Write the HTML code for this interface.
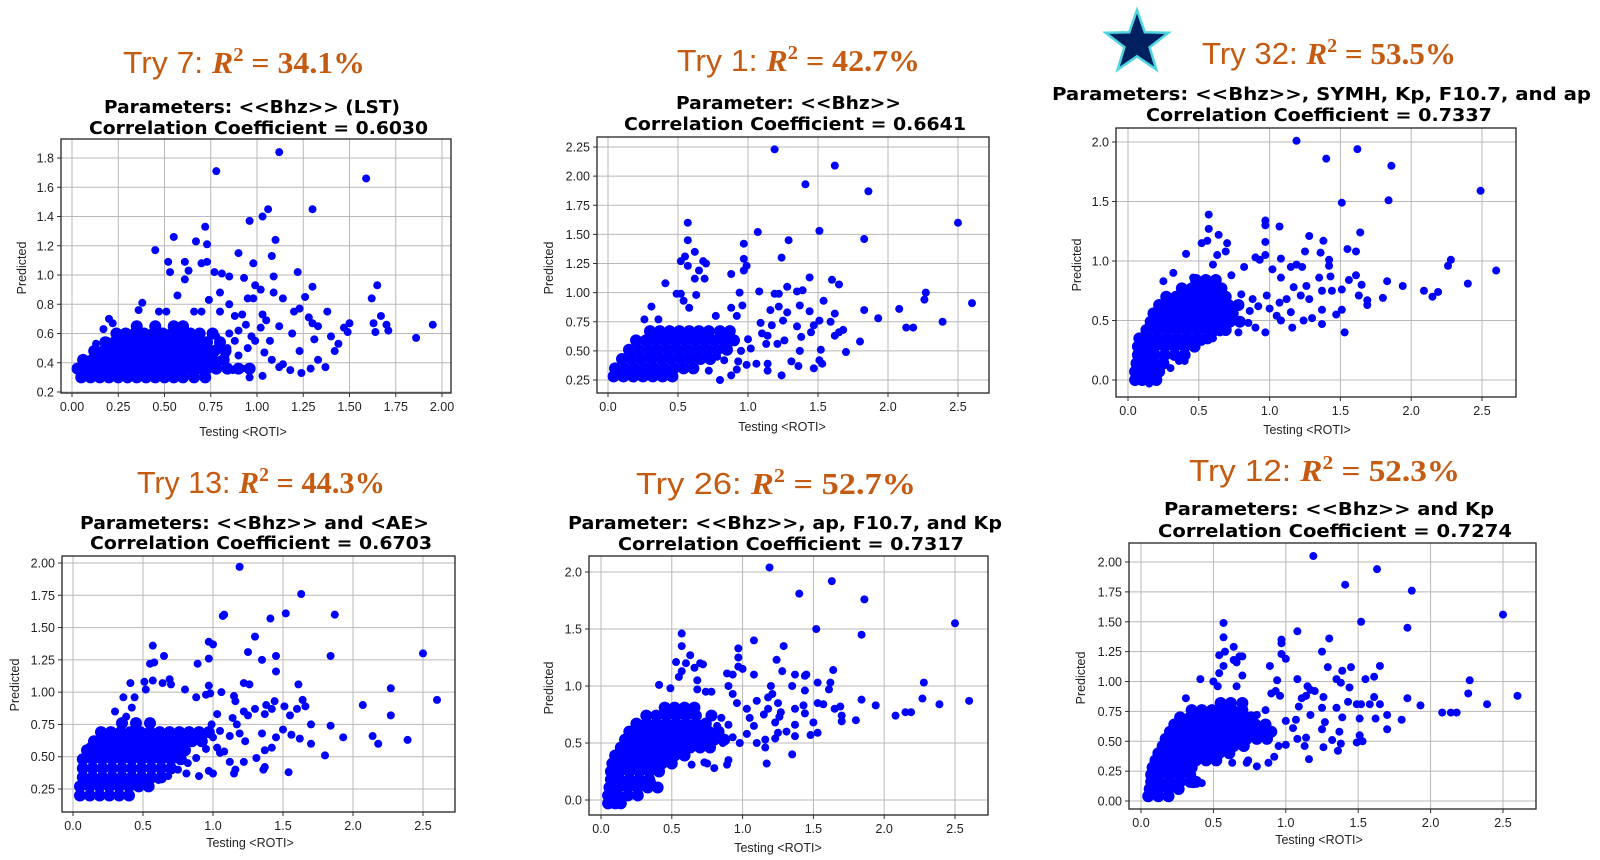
<!DOCTYPE html>
<html><head><meta charset="utf-8"><style>
html,body{margin:0;padding:0;background:#fff;}
svg{display:block;}
.tk{font-family:"Liberation Sans","DejaVu Sans",sans-serif;font-size:12.5px;fill:#222;}
.ax{font-family:"Liberation Sans","DejaVu Sans",sans-serif;font-size:12.5px;fill:#222;}
.sub{font-family:"DejaVu Sans","Liberation Sans",sans-serif;font-weight:bold;font-size:18px;fill:#000;}
.ttl{font-family:"Liberation Sans",sans-serif;font-size:31px;fill:#C55A11;}
.mth{font-family:"Liberation Serif",serif;font-weight:bold;}
</style></head><body>
<svg id="root" width="1600" height="860" viewBox="0 0 1600 860" xmlns="http://www.w3.org/2000/svg">
<polygon fill="#002060" stroke="#4fd6e0" stroke-width="2.5"
 points="1137,10 1144.8,32.3 1168.4,32.8 1149.6,47.2 1156.4,69.7 1137,56.3 1117.6,69.7 1124.4,47.2 1105.6,32.8 1129.2,32.3"/>
</svg>
<script>
// ---------------- DATA ----------------
const titles = ["Try 7: ","Try 1: ","Try 32: ","Try 13: ","Try 26:  ","Try 12: "];
const r2values = ["= 34.1%","= 42.7%","= 53.5%","= 44.3%","= 52.7%","= 52.3%"];
const subLine1 = ["Parameters: <<Bhz>> (LST)","Parameter: <<Bhz>>","Parameters: <<Bhz>>, SYMH, Kp, F10.7, and ap","Parameters: <<Bhz>> and <AE>","Parameter: <<Bhz>>, ap, F10.7, and Kp","Parameters: <<Bhz>> and Kp"];
const corrValues = ["0.6030","0.6641","0.7337","0.6703","0.7317","0.7274"];

const xTicks1 = [0,0.25,0.5,0.75,1.0,1.25,1.5,1.75,2.0];
const xTickLabels1 = ["0.00","0.25","0.50","0.75","1.00","1.25","1.50","1.75","2.00"];
const yTicks1 = [0.2,0.4,0.6,0.8,1.0,1.2,1.4,1.6,1.8];
const yTickLabels1 = ["0.2","0.4","0.6","0.8","1.0","1.2","1.4","1.6","1.8"];
const xTicksB = [0,0.5,1.0,1.5,2.0,2.5];
const xTickLabelsB = ["0.0","0.5","1.0","1.5","2.0","2.5"];
const yTicks2 = [0.25,0.5,0.75,1.0,1.25,1.5,1.75,2.0,2.25];
const yTickLabels2 = ["0.25","0.50","0.75","1.00","1.25","1.50","1.75","2.00","2.25"];
const yTicks3 = [0,0.5,1.0,1.5,2.0];
const yTickLabels3 = ["0.0","0.5","1.0","1.5","2.0"];
const yTicks4 = [0.25,0.5,0.75,1.0,1.25,1.5,1.75,2.0];
const yTickLabels4 = ["0.25","0.50","0.75","1.00","1.25","1.50","1.75","2.00"];
const yTicks6 = [0,0.25,0.5,0.75,1.0,1.25,1.5,1.75,2.0];
const yTickLabels6 = ["0.00","0.25","0.50","0.75","1.00","1.25","1.50","1.75","2.00"];

// dense core rows: [y, [x values]]
const core1 = [[0.30,[.05,.10,.15,.20,.25,.30,.35,.40,.45,.50,.55,.60,.66,.72]],
[0.36,[.03,.08,.13,.18,.23,.28,.33,.38,.43,.48,.53,.58,.63,.68,.73,.78,.84,.90,.96]],
[0.42,[.06,.11,.16,.21,.26,.31,.36,.41,.46,.51,.56,.61,.66,.71,.76,.82]],
[0.48,[.12,.17,.22,.27,.32,.37,.42,.47,.52,.57,.62,.67,.72,.77,.83]],
[0.54,[.18,.23,.28,.33,.38,.43,.48,.53,.58,.63,.68,.73,.80]],
[0.60,[.24,.29,.34,.39,.44,.49,.54,.59,.64,.69,.76]],
[0.65,[.35,.45,.55,.60]]];
const pts1 = [[1.12,1.84],[0.78,1.71],[1.59,1.66],[1.30,1.45],[1.06,1.45],[1.03,1.40],[0.96,1.37],[0.72,1.33],[0.55,1.26],[1.10,1.24],[0.67,1.23],[0.73,1.21],[0.45,1.17],[0.90,1.15],[1.08,1.13],[0.52,1.09],[0.61,1.09],[0.70,1.08],[0.73,1.09],[0.98,1.08],[0.53,1.02],[0.63,1.03],[0.77,1.02],[0.81,1.01],[1.22,1.02],[0.85,0.99],[0.93,0.98],[1.09,0.99],[0.61,0.97],[0.99,0.93],[1.02,0.90],[1.30,0.92],[0.80,0.88],[1.65,0.93],[1.09,0.88],[0.57,0.86],[1.26,0.85],[0.95,0.84],[0.98,0.84],[1.14,0.84],[1.62,0.84],[0.38,0.81],[0.74,0.83],[0.36,0.76],[1.38,0.75],[1.20,0.75],[1.23,0.77],[0.47,0.75],[0.51,0.75],[1.67,0.72],[1.28,0.71],[1.30,0.67],[1.33,0.65],[1.50,0.67],[1.63,0.67],[1.70,0.66],[1.95,0.66],[1.47,0.64],[1.40,0.58],[1.71,0.62],[1.64,0.61],[1.49,0.61],[1.86,0.57],[1.31,0.56],[1.44,0.53],[1.42,0.48],[1.23,0.48],[1.33,0.42],[1.37,0.37],[1.29,0.36],[1.24,0.33],[1.18,0.35],[1.03,0.31],[0.96,0.30],[1.12,0.37],[1.08,0.42],[1.14,0.39],[1.04,0.47],[1.19,0.60],[1.07,0.55],[1.12,0.65],[1.02,0.64],[0.94,0.66],[0.88,0.72],[0.92,0.73],[1.03,0.73],[1.05,0.69],[0.99,0.55],[0.90,0.45],[0.84,0.50],[0.80,0.42],[0.87,0.35],[0.92,0.36],[0.75,0.40],[0.70,0.75],[0.66,0.75],[0.80,0.75],[0.85,0.80],[0.90,0.62],[0.95,0.50],[0.85,0.60],[0.78,0.58],[0.78,0.50],[0.83,0.45],[0.88,0.55],[0.97,0.58],[0.20,0.70],[0.17,0.63],[0.22,0.67],[0.19,0.55],[0.13,0.53],[0.08,0.40],[0.45,0.66],[0.58,0.34]];

const core2 = [[0.28,[.04,.11,.18,.25,.32,.39,.46]],
[0.35,[.05,.12,.19,.26,.33,.40,.47,.54,.61]],
[0.43,[.10,.17,.24,.31,.38,.45,.52,.59,.66,.73]],
[0.51,[.15,.22,.29,.36,.43,.50,.57,.64,.71,.78,.85]],
[0.59,[.20,.27,.34,.41,.48,.55,.62,.69,.76,.83,.90]],
[0.67,[.30,.37,.44,.51,.58,.65,.72,.80,.87]]];
const pts2 = [[1.19,2.23],[1.62,2.09],[1.41,1.93],[1.86,1.87],[0.57,1.60],[2.50,1.60],[1.07,1.52],[1.51,1.53],[0.57,1.45],[1.83,1.46],[1.29,1.45],[0.97,1.42],[0.62,1.35],[0.55,1.31],[0.52,1.27],[0.57,1.23],[0.68,1.27],[0.70,1.25],[0.97,1.29],[1.24,1.30],[0.97,1.19],[0.99,1.23],[0.65,1.19],[0.62,1.12],[0.69,1.12],[0.88,1.16],[1.44,1.13],[1.60,1.11],[1.65,1.07],[0.41,1.08],[0.49,0.99],[0.52,0.99],[0.63,0.98],[0.94,1.00],[1.08,1.01],[1.19,0.99],[1.22,0.99],[1.28,1.05],[1.35,1.01],[1.39,1.02],[2.27,1.00],[2.26,0.94],[2.60,0.91],[1.54,0.93],[0.54,0.93],[0.58,0.87],[0.31,0.88],[0.88,0.87],[0.96,0.89],[1.16,0.85],[1.22,0.88],[1.37,0.89],[1.44,0.84],[1.83,0.85],[2.08,0.86],[1.28,0.83],[1.62,0.82],[0.77,0.80],[0.26,0.77],[0.36,0.77],[0.92,0.80],[1.25,0.76],[1.51,0.76],[1.59,0.75],[1.47,0.72],[1.35,0.71],[1.17,0.72],[1.93,0.78],[2.39,0.75],[2.13,0.70],[2.18,0.70],[1.68,0.68],[1.65,0.66],[1.62,0.63],[1.45,0.66],[1.38,0.62],[1.14,0.63],[1.80,0.58],[1.26,0.59],[1.21,0.56],[1.13,0.56],[1.00,0.60],[1.02,0.52],[0.95,0.50],[1.37,0.50],[1.52,0.51],[1.70,0.49],[0.93,0.41],[0.99,0.38],[1.06,0.39],[1.14,0.39],[1.31,0.41],[1.36,0.37],[1.51,0.42],[1.53,0.39],[1.47,0.35],[1.14,0.33],[1.24,0.29],[0.88,0.29],[0.80,0.25],[0.72,0.33],[0.83,0.42],[0.92,0.34],[0.78,0.45],[0.85,0.50],[1.09,0.74],[1.10,0.65]];

const core3 = [[0.00,[.05,.10,.15,.20]],[0.07,[.05,.10,.15,.22]],[0.14,[.06,.12,.18,.25]],
[0.21,[.07,.13,.19,.26,.33,.40]],[0.28,[.07,.13,.19,.26,.33,.40,.47]],
[0.35,[.08,.14,.21,.28,.35,.42,.49,.56]],[0.42,[.13,.20,.27,.34,.41,.48,.55,.62,.69]],
[0.49,[.16,.23,.30,.37,.44,.51,.58,.65,.72,.79]],[0.56,[.18,.25,.32,.39,.46,.53,.60,.67,.74]],
[0.63,[.22,.29,.36,.43,.50,.57,.64,.71,.78]],[0.70,[.27,.34,.41,.48,.55,.62,.69]],
[0.77,[.38,.45,.52,.59,.66]],[0.84,[.48,.55,.62]]];
const pts3 = [[1.19,2.01],[1.40,1.86],[1.62,1.94],[1.86,1.80],[2.49,1.59],[1.51,1.49],[1.84,1.51],[0.57,1.39],[0.57,1.27],[0.64,1.22],[0.97,1.34],[0.97,1.30],[1.07,1.29],[1.28,1.21],[1.38,1.17],[1.64,1.24],[0.70,1.15],[0.56,1.17],[0.52,1.15],[0.97,1.16],[0.63,1.05],[0.41,1.06],[0.69,1.08],[0.97,1.05],[1.08,1.02],[1.25,1.08],[1.36,1.07],[1.42,1.01],[1.55,1.10],[1.61,1.08],[2.28,1.01],[2.26,0.96],[2.60,0.92],[0.90,1.03],[0.93,1.01],[1.19,0.97],[1.23,0.95],[1.42,0.96],[1.15,0.95],[0.32,0.90],[0.25,0.83],[0.46,0.86],[0.60,0.97],[0.82,0.95],[0.73,0.88],[1.02,0.93],[1.08,0.86],[1.35,0.86],[1.43,0.87],[1.56,0.84],[1.61,0.88],[1.65,0.80],[1.83,0.83],[1.94,0.79],[2.09,0.75],[2.15,0.70],[2.19,0.74],[2.40,0.81],[1.80,0.69],[1.69,0.67],[1.69,0.63],[1.63,0.71],[1.51,0.76],[1.44,0.75],[1.37,0.75],[1.26,0.79],[1.22,0.71],[1.17,0.78],[1.12,0.68],[1.07,0.65],[0.98,0.71],[0.88,0.68],[0.80,0.72],[0.86,0.58],[0.92,0.62],[1.00,0.60],[1.05,0.54],[1.08,0.50],[0.85,0.48],[0.90,0.44],[0.97,0.40],[0.78,0.40],[0.65,0.40],[0.55,0.34],[0.52,0.32],[0.60,0.35],[1.15,0.57],[1.16,0.44],[1.24,0.50],[1.28,0.68],[1.37,0.59],[1.37,0.47],[1.30,0.52],[1.47,0.55],[1.51,0.59],[1.53,0.40],[0.36,0.16],[0.40,0.16],[0.30,0.10],[0.20,0.00],[0.15,-0.03]];

const core4 = [[0.20,[.05,.12,.19,.26,.33,.40]],[0.27,[.05,.12,.19,.26,.33,.40,.47,.54]],
[0.34,[.07,.14,.21,.28,.35,.42,.49,.56,.63]],[0.41,[.07,.14,.21,.28,.35,.42,.49,.56,.63,.70]],
[0.48,[.07,.14,.21,.28,.35,.42,.49,.56,.63,.70,.77]],[0.55,[.10,.17,.24,.31,.38,.45,.52,.59,.66,.73,.80]],
[0.62,[.15,.22,.29,.36,.43,.50,.57,.64,.71,.78,.85,.92]],[0.69,[.20,.27,.34,.41,.48,.55,.62,.69,.76,.83,.90,.97]],
[0.76,[.35,.45,.55]]];
const pts4 = [[1.19,1.97],[1.63,1.76],[1.07,1.59],[1.08,1.60],[1.41,1.57],[1.52,1.61],[1.87,1.60],[1.30,1.43],[0.57,1.36],[0.97,1.39],[1.00,1.37],[1.25,1.31],[1.45,1.28],[1.84,1.28],[2.50,1.30],[0.65,1.28],[0.55,1.22],[0.58,1.23],[0.97,1.26],[0.89,1.22],[1.35,1.25],[1.45,1.16],[0.57,1.09],[0.51,1.08],[0.41,1.07],[0.64,1.07],[0.69,1.10],[0.70,1.06],[0.97,1.05],[1.22,1.07],[1.26,1.06],[1.61,1.06],[0.52,1.02],[0.80,1.02],[1.06,1.00],[2.27,1.03],[2.60,0.94],[0.36,0.96],[0.44,0.96],[0.88,0.96],[0.95,0.98],[0.98,0.99],[1.15,0.97],[1.16,0.93],[1.44,0.93],[1.64,0.94],[1.66,0.89],[1.51,0.89],[2.07,0.90],[1.38,0.90],[1.42,0.87],[1.30,0.87],[1.22,0.85],[1.55,0.82],[2.27,0.82],[1.37,0.83],[1.25,0.82],[1.14,0.80],[1.03,0.83],[0.30,0.85],[0.42,0.88],[0.38,0.81],[1.70,0.75],[1.84,0.74],[1.60,0.87],[1.17,0.75],[1.12,0.66],[1.23,0.62],[1.19,0.68],[1.35,0.68],[1.50,0.71],[1.45,0.65],[1.56,0.67],[1.62,0.64],[1.93,0.65],[2.14,0.66],[2.18,0.60],[2.39,0.63],[1.70,0.60],[1.80,0.51],[1.42,0.57],[1.37,0.55],[1.31,0.49],[1.22,0.46],[1.05,0.53],[1.08,0.54],[1.03,0.57],[1.12,0.46],[1.16,0.40],[1.15,0.37],[1.00,0.37],[0.97,0.39],[0.90,0.35],[0.81,0.37],[0.75,0.40],[0.68,0.35],[0.61,0.32],[0.55,0.26],[1.54,0.38],[1.36,0.40],[1.37,0.42],[0.82,0.45],[0.88,0.49],[0.95,0.56],[1.00,0.65],[1.05,0.70],[0.99,0.75],[0.12,0.58]];

const core5 = [[-0.03,[.05,.10,.14]],[0.04,[.05,.12,.19,.26]],[0.11,[.06,.12,.19,.26,.33,.40]],
[0.18,[.07,.13,.20,.27,.34]],[0.25,[.07,.13,.20,.27,.34,.41]],[0.32,[.08,.15,.22,.29,.36,.43,.50]],
[0.39,[.10,.17,.24,.31,.38,.45,.52,.59]],[0.46,[.14,.21,.28,.35,.42,.49,.56,.63,.70,.77]],
[0.53,[.17,.24,.31,.38,.45,.52,.59,.66,.73,.80,.87]],[0.60,[.20,.27,.34,.41,.48,.55,.62,.69,.76,.83]],
[0.67,[.25,.32,.39,.46,.53,.60,.67,.74]],[0.74,[.32,.39,.46,.53,.60,.67,.78]],[0.81,[.45,.52,.59,.66]]];
const pts5 = [[1.19,2.04],[1.63,1.92],[1.40,1.81],[1.86,1.76],[2.50,1.55],[1.52,1.50],[1.84,1.45],[0.57,1.46],[0.57,1.35],[1.08,1.40],[1.29,1.35],[0.97,1.33],[0.97,1.25],[0.63,1.27],[1.24,1.23],[0.53,1.21],[0.60,1.20],[0.66,1.16],[0.70,1.20],[0.72,1.19],[0.97,1.17],[1.00,1.15],[0.57,1.13],[0.55,1.08],[0.68,1.05],[0.89,1.11],[0.93,1.10],[1.08,1.10],[1.28,1.13],[1.37,1.10],[1.45,1.10],[1.64,1.14],[0.41,1.01],[0.49,0.98],[0.68,0.97],[0.74,0.95],[0.78,0.95],[0.90,1.00],[0.93,0.93],[1.20,1.00],[1.35,1.00],[1.44,1.09],[1.53,1.03],[1.62,1.03],[1.61,0.97],[2.28,1.03],[1.21,0.93],[1.18,0.90],[1.44,0.96],[0.96,0.85],[1.10,0.87],[1.25,0.85],[1.18,0.80],[1.37,0.80],[1.43,0.83],[1.53,0.85],[1.57,0.84],[1.65,0.80],[1.69,0.82],[1.84,0.88],[2.27,0.89],[1.94,0.83],[2.60,0.87],[2.39,0.84],[2.08,0.74],[2.15,0.77],[2.19,0.77],[1.80,0.70],[1.70,0.74],[1.70,0.69],[1.44,0.76],[1.37,0.66],[1.27,0.77],[1.26,0.73],[1.23,0.68],[1.15,0.75],[1.03,0.80],[1.05,0.72],[1.08,0.65],[1.03,0.58],[0.98,0.50],[1.10,0.50],[1.16,0.53],[1.23,0.54],[1.25,0.59],[1.31,0.60],[1.37,0.56],[1.48,0.57],[1.50,0.68],[1.53,0.59],[1.16,0.46],[1.35,0.40],[1.17,0.32],[0.90,0.35],[0.89,0.31],[0.80,0.28],[0.73,0.33],[0.75,0.32],[0.64,0.31],[0.86,0.50],[0.93,0.55],[0.90,0.66],[0.85,0.72],[0.82,0.65],[0.36,0.16],[0.30,0.13]];

const core6 = [[0.04,[.05,.12,.19]],[0.10,[.06,.12,.19,.26]],[0.16,[.07,.13,.20,.27,.34,.38]],
[0.22,[.07,.13,.20,.27,.34]],[0.28,[.08,.14,.21,.28,.35]],[0.34,[.10,.17,.24,.31,.38,.45,.52]],
[0.40,[.12,.19,.26,.33,.40,.47,.54,.61]],[0.46,[.15,.22,.29,.36,.43,.50,.57,.64,.71]],
[0.52,[.17,.24,.31,.38,.45,.52,.59,.66,.73,.80,.87]],[0.58,[.20,.27,.34,.41,.48,.55,.62,.69,.76,.83,.90]],
[0.64,[.23,.30,.37,.44,.51,.58,.65,.72,.79,.86]],[0.70,[.27,.34,.41,.48,.55,.62,.69,.76]],
[0.76,[.35,.42,.49,.56,.63,.70]],[0.82,[.55,.62,.70]]];
const pts6 = [[1.19,2.05],[1.63,1.94],[1.41,1.81],[1.87,1.76],[2.50,1.56],[1.52,1.50],[1.84,1.45],[0.57,1.49],[0.57,1.37],[1.08,1.42],[1.30,1.36],[0.97,1.35],[0.97,1.32],[0.64,1.29],[1.25,1.25],[0.54,1.22],[0.58,1.25],[0.68,1.21],[0.70,1.21],[0.97,1.23],[1.00,1.19],[0.57,1.13],[0.64,1.18],[0.66,1.16],[0.89,1.13],[1.29,1.12],[1.45,1.12],[1.65,1.13],[1.39,1.09],[0.54,1.07],[0.70,1.05],[0.41,1.02],[0.50,1.00],[0.53,0.96],[0.66,0.96],[0.94,1.01],[1.08,1.02],[1.35,1.02],[1.38,0.99],[1.55,1.02],[1.61,1.04],[2.27,1.01],[2.26,0.90],[2.60,0.88],[1.44,0.95],[1.15,0.96],[1.17,0.93],[1.20,0.92],[1.26,0.87],[0.96,0.88],[0.90,0.90],[0.93,0.92],[0.31,0.86],[1.11,0.86],[1.14,0.88],[1.61,0.87],[1.84,0.86],[1.43,0.83],[1.49,0.81],[1.52,0.81],[1.58,0.81],[1.65,0.81],[1.93,0.80],[2.39,0.81],[2.08,0.74],[2.14,0.74],[2.18,0.74],[1.80,0.68],[1.70,0.72],[1.70,0.60],[1.62,0.69],[1.51,0.69],[1.39,0.70],[1.35,0.78],[1.25,0.78],[1.27,0.66],[1.25,0.60],[1.17,0.72],[1.09,0.79],[1.07,0.68],[1.05,0.61],[1.00,0.67],[1.37,0.58],[1.32,0.51],[1.38,0.48],[1.49,0.49],[1.53,0.50],[1.51,0.55],[1.36,0.42],[1.26,0.45],[1.14,0.53],[1.13,0.46],[1.08,0.52],[1.00,0.47],[0.95,0.46],[0.92,0.37],[0.88,0.32],[0.80,0.29],[0.74,0.34],[0.73,0.32],[0.63,0.32],[1.16,0.35],[0.80,0.72],[0.86,0.76],[0.42,0.15],[0.36,0.14]];

// ---------------- LAYOUT ----------------
const NS = "http://www.w3.org/2000/svg";
const root = document.getElementById('root');
function mk(tag, attrs, parent){const e=document.createElementNS(NS,tag);for(const k in attrs)e.setAttribute(k,attrs[k]);(parent||root).appendChild(e);return e;}

const panels = [
 {box:[61,139,451,393], xa:[0,72,2.0,442], ya:[0.2,392,1.8,158], xt:xTicks1, xl:xTickLabels1, yt:yTicks1, yl:yTickLabels1, core:core1, pts:pts1,
  title:[123,365,73], s1:[104,400,113], s2:[89,428,134], xlab:[243,436], ylab:[22,268]},
 {box:[597,137,989,393], xa:[0,608,2.5,958], ya:[0.25,380,2.25,147], xt:xTicksB, xl:xTickLabelsB, yt:yTicks2, yl:yTickLabels2, core:core2, pts:pts2,
  title:[677,920,71], s1:[676,901,109], s2:[624,966,130], xlab:[782,431], ylab:[549,268]},
 {box:[1116,128,1516,397], xa:[0,1128,2.5,1482], ya:[0,380,2.0,142], xt:xTicksB, xl:xTickLabelsB, yt:yTicks3, yl:yTickLabels3, core:core3, pts:pts3,
  title:[1202,1456,64], s1:[1052,1591,100], s2:[1146,1492,121], xlab:[1307,434], ylab:[1077,265]},
 {box:[62,556,455,812], xa:[0,73,2.5,423], ya:[0.25,789,2.0,563], xt:xTicksB, xl:xTickLabelsB, yt:yTicks4, yl:yTickLabels4, core:core4, pts:pts4,
  title:[137,385,493], s1:[80,429,529], s2:[90,432,549], xlab:[250,847], ylab:[15,685]},
 {box:[589,556,988,815], xa:[0,601,2.5,955], ya:[0,800,2.0,572], xt:xTicksB, xl:xTickLabelsB, yt:yTicks3, yl:yTickLabels3, core:core5, pts:pts5,
  title:[636,916,494], s1:[568,1002,529], s2:[618,964,550], xlab:[778,852], ylab:[549,688]},
 {box:[1129,543,1536,809], xa:[0,1141,2.5,1503], ya:[0,801,2.0,562], xt:xTicksB, xl:xTickLabelsB, yt:yTicks6, yl:yTickLabels6, core:core6, pts:pts6,
  title:[1189,1460,481], s1:[1164,1494,515], s2:[1158,1512,537], xlab:[1319,844], ylab:[1081,678]}
];

panels.forEach((p,i)=>{
  const g = mk('g',{});
  
  
  const sx = v => p.xa[1] + (v-p.xa[0])*(p.xa[3]-p.xa[1])/(p.xa[2]-p.xa[0]);
  const sy = v => p.ya[1] + (v-p.ya[0])*(p.ya[3]-p.ya[1])/(p.ya[2]-p.ya[0]);
  const [L,T,R,B] = p.box;

  const t = mk('text',{x:p.title[0],y:p.title[2],class:'ttl',textLength:p.title[1]-p.title[0],lengthAdjust:'spacingAndGlyphs'},g);
  
  
  mk('tspan',{},t).textContent = titles[i];
  const rr = mk('tspan',{class:'mth','font-style':'italic'},t); rr.textContent='R';
  const sup = mk('tspan',{class:'mth','font-size':'20','dy':'-12'},t); sup.textContent='2';
  const eq = mk('tspan',{class:'mth','dy':'12'},t); eq.textContent=' '+r2values[i];

  const a = mk('text',{x:p.s1[0],y:p.s1[2],class:'sub',textLength:p.s1[1]-p.s1[0],lengthAdjust:'spacingAndGlyphs'},g);
  
  
  a.textContent = subLine1[i];
  const b = mk('text',{x:p.s2[0],y:p.s2[2],class:'sub',textLength:p.s2[1]-p.s2[0],lengthAdjust:'spacingAndGlyphs'},g);
  
  
  b.textContent = 'Correlation Coefficient = '+corrValues[i];

  p.xt.forEach((v,k)=>{
    const x=sx(v);
    const gl = mk('line',{x1:x,x2:x,y1:T,y2:B,stroke:'#b8b8b8','stroke-width':1},g);
    
    
    mk('line',{x1:x,x2:x,y1:B,y2:B+4,stroke:'#333','stroke-width':1},g);
    const tl = mk('text',{x:x,y:B+18,'text-anchor':'middle',class:'tk'},g);
    
    
    tl.textContent = p.xl[k];
  });
  p.yt.forEach((v,k)=>{
    const y=sy(v);
    const gl = mk('line',{x1:L,x2:R,y1:y,y2:y,stroke:'#b8b8b8','stroke-width':1},g);
    
    
    mk('line',{x1:L-4,x2:L,y1:y,y2:y,stroke:'#333','stroke-width':1},g);
    const tl = mk('text',{x:L-7,y:y+4.5,'text-anchor':'end',class:'tk'},g);
    
    
    tl.textContent = p.yl[k];
  });

  const dots = mk('g',{fill:'#0000ff'},g);
  
  
  p.core.forEach(row=>{
    row[1].forEach(xv=>{
      const c = mk('circle',{cx:sx(xv),cy:sy(row[0]),r:6},dots);
      
      
    });
  });
  p.pts.forEach(pt=>{
    const c = mk('circle',{cx:sx(pt[0]),cy:sy(pt[1]),r:4},dots);
    
    
  });

  const fr = mk('rect',{x:L,y:T,width:R-L,height:B-T,fill:'none',stroke:'#222','stroke-width':1.3},g);
  
  

  const xl = mk('text',{x:p.xlab[0],y:p.xlab[1],'text-anchor':'middle',class:'ax'},g);
  
  
  xl.textContent = 'Testing <ROTI>';
  const yl = mk('text',{x:0,y:0,'text-anchor':'middle',class:'ax',transform:'translate('+(p.ylab[0]+4)+','+p.ylab[1]+') rotate(-90)'},g);
  
  
  yl.textContent = 'Predicted';
});
</script>
</body></html>
